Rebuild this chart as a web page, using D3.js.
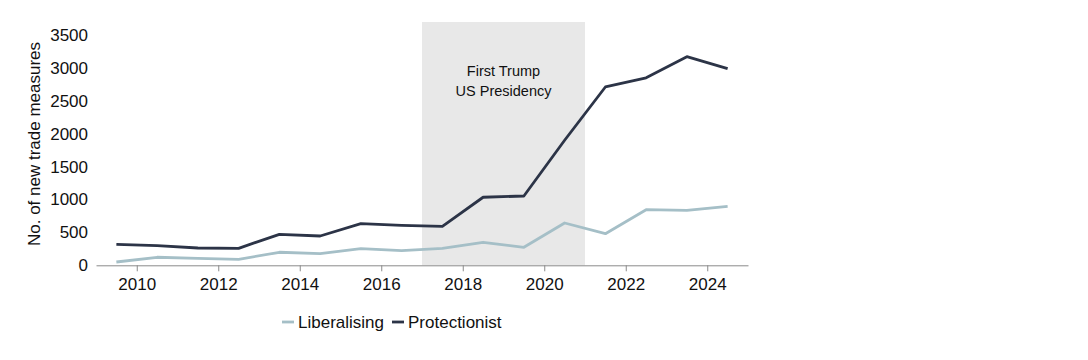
<!DOCTYPE html>
<html><head><meta charset="utf-8">
<script src="https://cdn.jsdelivr.net/npm/d3@7"></script>
<style>body{margin:0;background:#fff;} text{font-family:"Liberation Sans",Arial,sans-serif;}</style>
</head><body>
<svg id="c" width="1088" height="360"></svg>
<script>
const years = [2009.5,2010.5,2011.5,2012.5,2013.5,2014.5,2015.5,2016.5,2017.5,2018.5,2019.5,2020.5,2021.5,2022.5,2023.5,2024.5];
const liberalising = [50,122,106,91,198,176,252,222,258,350,274,643,480,845,836,897];
const protectionist = [319,298,263,258,471,445,632,608,593,1034,1053,1900,2710,2850,3170,2990];
const xTicks = [2010,2012,2014,2016,2018,2020,2022,2024];
const yTicks = [0,500,1000,1500,2000,2500,3000,3500];
const shade = [2017,2021];
const shadeLabel = ["First Trump","US Presidency"];
const seriesNames = ["Liberalising","Protectionist"];
const colors = ["#a5bfc7","#2c3447"];

const svg = d3.select("#c");
const x = d3.scaleLinear().domain([2009,2025]).range([96,748]);
const y = d3.scaleLinear().domain([0,3500]).range([265.3,35]);

// shaded region
svg.append("rect").attr("x",x(shade[0])).attr("width",x(shade[1])-x(shade[0]))
  .attr("y",22).attr("height",y(0)-22).attr("fill","#e8e8e8");
svg.append("text").attr("x",(x(shade[0])+x(shade[1]))/2).attr("text-anchor","middle")
  .attr("font-size",14.5).attr("fill","#111")
  .selectAll("tspan").data(shadeLabel).join("tspan")
  .attr("x",(x(shade[0])+x(shade[1]))/2).attr("y",(d,i)=>76+i*20).text(d=>d);

// x axis
const xa = svg.append("g").attr("transform",`translate(0,${y(0)})`)
  .call(d3.axisBottom(x).tickValues(xTicks).tickFormat(d3.format("d")).tickSize(6).tickSizeOuter(0));
xa.select(".domain").attr("stroke","#8a8a8a");
xa.selectAll(".tick line").attr("stroke","#8a8a8a");
xa.selectAll("text").attr("font-size",17).attr("fill","#111").attr("dy","0.9em").attr("font-family","Liberation Sans, Arial, sans-serif");

// y axis
const ya = svg.append("g").attr("transform","translate(88,0)")
  .call(d3.axisLeft(y).tickValues(yTicks).tickFormat(d3.format("d")).tickSize(0).tickPadding(0));
ya.select(".domain").remove();
ya.selectAll("text").attr("font-size",17).attr("fill","#111").attr("font-family","Liberation Sans, Arial, sans-serif");

svg.append("text").attr("transform","translate(40,144) rotate(-90)").attr("text-anchor","middle")
  .attr("font-size",17).attr("fill","#111").text("No. of new trade measures");

// lines
const line = d3.line().x((d,i)=>x(years[i])).y(d=>y(d));
[liberalising, protectionist].forEach((s,k)=>{
  svg.append("path").datum(s).attr("d",line).attr("fill","none")
    .attr("stroke",colors[k]).attr("stroke-width",2.8).attr("stroke-linejoin","round");
});

// legend
const lg = svg.append("g");
const lx = [282,392];
seriesNames.forEach((n,k)=>{
  lg.append("line").attr("x1",lx[k]).attr("x2",lx[k]+12).attr("y1",322).attr("y2",322)
    .attr("stroke",colors[k]).attr("stroke-width",2.8);
  lg.append("text").attr("x",lx[k]+16).attr("y",328).attr("font-size",17).attr("fill","#111").text(n);
});
</script>
</body></html>
